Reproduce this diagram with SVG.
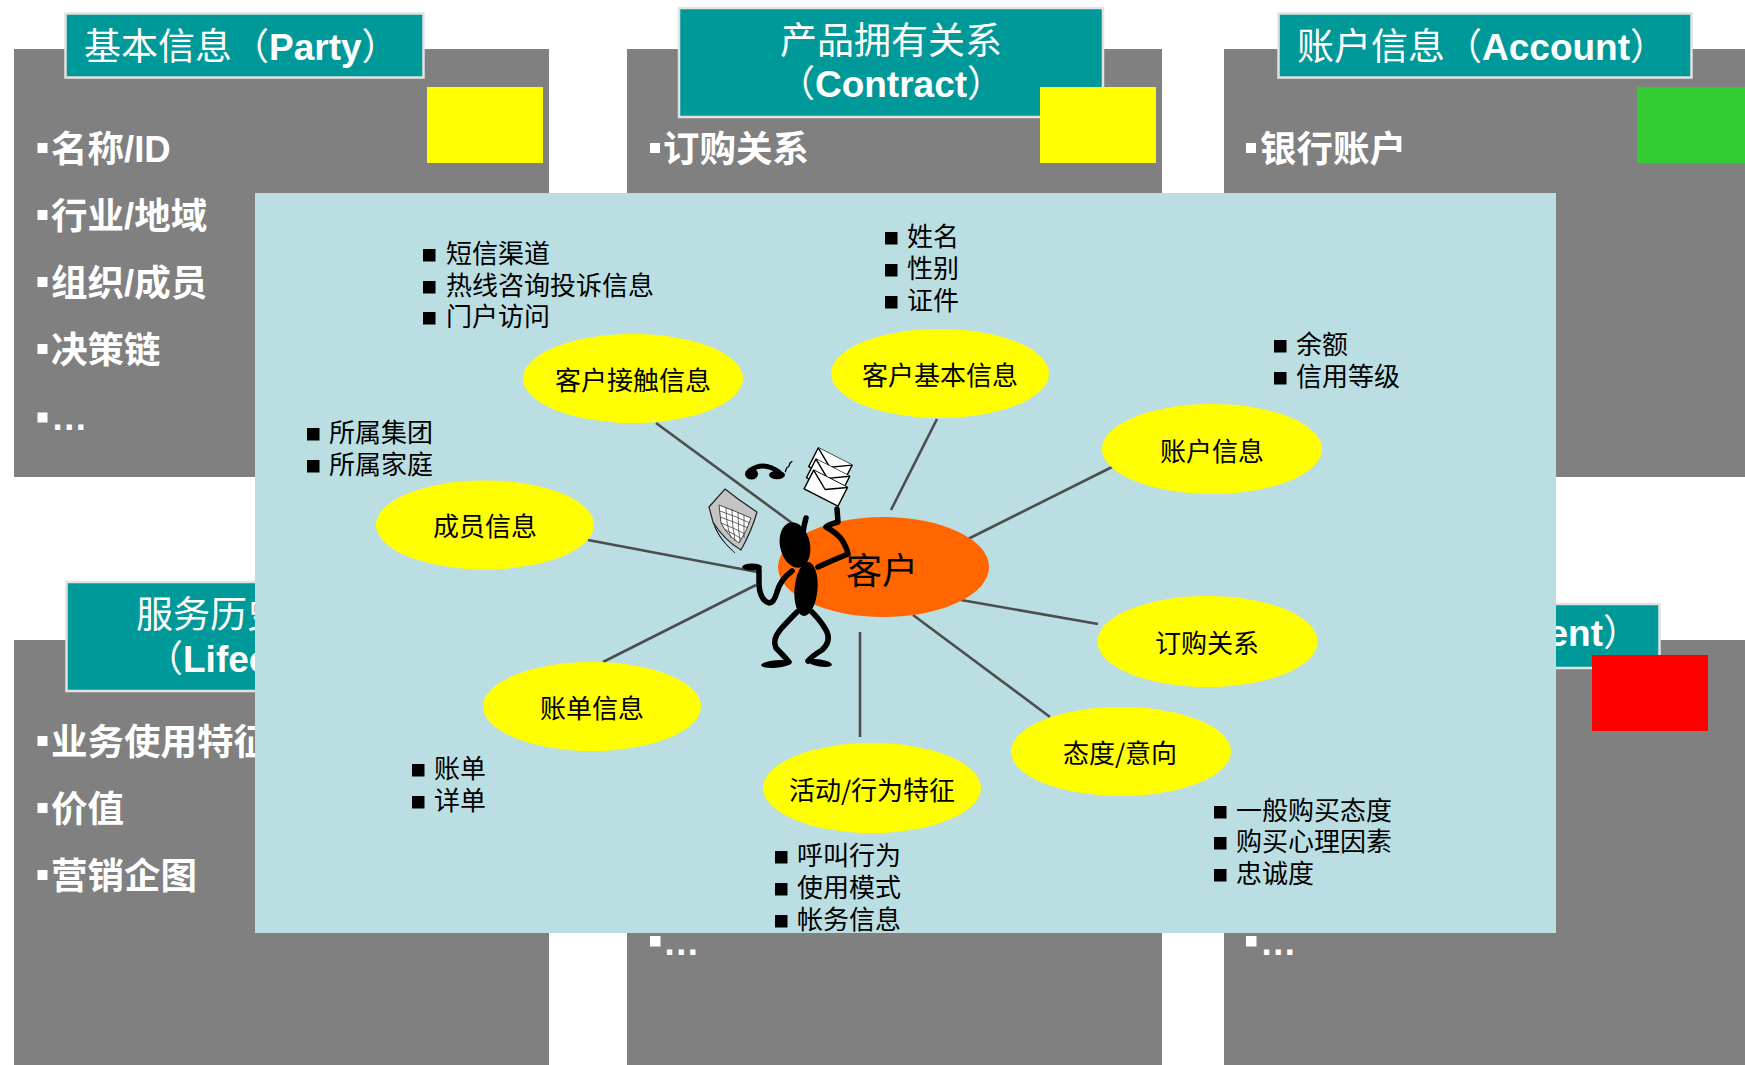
<svg xmlns="http://www.w3.org/2000/svg" width="1745" height="1065" viewBox="0 0 1745 1065">
<defs>
<style>
.panel{fill:#808080}
.hdr{fill:#009999;stroke:#E2E2E2;stroke-width:2.5}
.ttl{font-family:"Liberation Sans","Noto Sans CJK SC",sans-serif;font-size:37px;fill:#fff}
.lat{font-weight:bold}
.item{font-family:"Liberation Sans","Noto Sans CJK SC",sans-serif;font-size:36.5px;font-weight:bold;fill:#fff}
.wb{fill:#fff}
.node{fill:#FFFF00}
.lbl{font-family:"Noto Sans CJK SC",sans-serif;font-size:26px;fill:#000;text-anchor:middle}
.note{font-family:"Noto Sans CJK SC",sans-serif;font-size:26px;fill:#000}
.bb{fill:#000}
#connectors line{stroke:#4D4D4D;stroke-width:2.6}
.limb{fill:none;stroke:#000;stroke-width:5.5;stroke-linecap:round;stroke-linejoin:round}
.env{fill:#fff;stroke:#000;stroke-width:1.4;stroke-linejoin:round}
</style>
</defs>
<rect width="1745" height="1065" fill="#fff"/>

<!-- Party -->
<g id="panel-party">
  <rect class="panel" x="14" y="49" width="535" height="428"/>
  <rect class="hdr" x="65.5" y="13.5" width="358" height="64"/>
  <text class="ttl" x="84" y="60">基本信息（<tspan class="lat">Party</tspan>）</text>
  <rect x="427" y="87" width="116" height="76" fill="#FFFF00"/>
  <rect class="wb" x="37.5" y="143" width="10" height="10"/>
  <text class="item" x="51" y="162">名称/ID</text>
  <rect class="wb" x="37.5" y="210" width="10" height="10"/>
  <text class="item" x="51" y="229">行业/地域</text>
  <rect class="wb" x="37.5" y="277" width="10" height="10"/>
  <text class="item" x="51" y="296">组织/成员</text>
  <rect class="wb" x="37.5" y="344" width="10" height="10"/>
  <text class="item" x="51" y="363">决策链</text>
  <rect class="wb" x="37.5" y="412.5" width="10" height="10"/>
  <text class="item" x="51" y="430">…</text>
</g>

<!-- Contract -->
<g id="panel-contract">
  <rect class="panel" x="627" y="49" width="535" height="428"/>
  <rect class="hdr" x="679" y="8" width="424" height="109"/>
  <text class="ttl" x="891" y="54" text-anchor="middle">产品拥有关系</text>
  <text class="ttl" x="891" y="97" text-anchor="middle">（<tspan class="lat">Contract</tspan>）</text>
  <rect x="1040" y="87" width="116" height="76" fill="#FFFF00"/>
  <rect class="wb" x="650" y="143" width="10" height="10"/>
  <text class="item" x="663" y="162">订购关系</text>
</g>

<!-- Account -->
<g id="panel-account">
  <rect class="panel" x="1224" y="49" width="535" height="428"/>
  <rect class="hdr" x="1278.5" y="13.5" width="413" height="64"/>
  <text class="ttl" x="1297" y="60">账户信息（<tspan class="lat">Account</tspan>）</text>
  <rect x="1637" y="87" width="116" height="76" fill="#33CC33"/>
  <rect class="wb" x="1246" y="143" width="10" height="10"/>
  <text class="item" x="1260" y="162">银行账户</text>
</g>

<!-- Lifecycle -->
<g id="panel-lifecycle">
  <rect class="panel" x="14" y="640" width="535" height="430"/>
  <rect class="hdr" x="66.5" y="582" width="424" height="109"/>
  <text class="ttl" x="136" y="628">服务历史</text>
  <text class="ttl" x="146" y="672">（<tspan class="lat">Lifecycle</tspan>）</text>
  <rect class="wb" x="37.5" y="736" width="10" height="10"/>
  <text class="item" x="51" y="755">业务使用特征</text>
  <rect class="wb" x="37.5" y="803" width="10" height="10"/>
  <text class="item" x="51" y="822">价值</text>
  <rect class="wb" x="37.5" y="870" width="10" height="10"/>
  <text class="item" x="51" y="889">营销企图</text>
</g>

<!-- lower middle -->
<g id="panel-lower-middle">
  <rect class="panel" x="627" y="640" width="535" height="430"/>
  <rect class="wb" x="650" y="936" width="10.5" height="10.5"/>
  <text class="item" x="663" y="955">…</text>
</g>

<!-- Event -->
<g id="panel-event">
  <rect class="panel" x="1224" y="640" width="535" height="430"/>
  <rect class="hdr" x="1245" y="604" width="414.5" height="64"/>
  <text class="ttl" x="1640" y="646" text-anchor="end">（<tspan class="lat">Event</tspan>）</text>
  <rect x="1592" y="655" width="116" height="76" fill="#FF0000"/>
  <rect class="wb" x="1246" y="936" width="10.5" height="10.5"/>
  <text class="item" x="1260" y="955">…</text>
</g>

<!-- customer view board -->
<g id="customer-view">
  <rect x="255" y="193" width="1301" height="740" fill="#BBDEE3"/>
</g>

<g id="connectors">
  <line x1="656" y1="423" x2="792" y2="523"/>
  <line x1="937" y1="419" x2="891" y2="510"/>
  <line x1="1118" y1="464" x2="966" y2="540"/>
  <line x1="961" y1="600" x2="1098" y2="624"/>
  <line x1="913" y1="615" x2="1050" y2="717"/>
  <line x1="860" y1="632" x2="860" y2="737"/>
  <line x1="603" y1="662" x2="756" y2="585"/>
  <line x1="588" y1="540" x2="757" y2="572"/>
</g>

<g id="node-contact">
  <ellipse class="node" cx="633" cy="378.5" rx="110" ry="44.5"/>
  <text class="lbl" x="633" y="390">客户接触信息</text>
  <rect class="bb" x="423" y="249" width="12.5" height="12.5"/>
  <rect class="bb" x="423" y="281" width="12.5" height="12.5"/>
  <rect class="bb" x="423" y="312" width="12.5" height="12.5"/>
  <text class="note"><tspan x="446" y="263">短信渠道</tspan><tspan x="446" y="295">热线咨询投诉信息</tspan><tspan x="446" y="326">门户访问</tspan></text>
</g>

<g id="node-member">
  <ellipse class="node" cx="485" cy="525" rx="109" ry="44.5"/>
  <text class="lbl" x="485" y="536">成员信息</text>
  <rect class="bb" x="307" y="428" width="12.5" height="12.5"/>
  <rect class="bb" x="307" y="460" width="12.5" height="12.5"/>
  <text class="note"><tspan x="329" y="442">所属集团</tspan><tspan x="329" y="474">所属家庭</tspan></text>
</g>

<g id="node-basic">
  <ellipse class="node" cx="940" cy="373.5" rx="109" ry="44.5"/>
  <text class="lbl" x="940" y="385">客户基本信息</text>
  <rect class="bb" x="885" y="232" width="12.5" height="12.5"/>
  <rect class="bb" x="885" y="264" width="12.5" height="12.5"/>
  <rect class="bb" x="885" y="296" width="12.5" height="12.5"/>
  <text class="note"><tspan x="907" y="246">姓名</tspan><tspan x="907" y="278">性别</tspan><tspan x="907" y="310">证件</tspan></text>
</g>

<g id="node-account">
  <ellipse class="node" cx="1212" cy="449" rx="110" ry="45"/>
  <text class="lbl" x="1212" y="461">账户信息</text>
  <rect class="bb" x="1274" y="340" width="12.5" height="12.5"/>
  <rect class="bb" x="1274" y="372" width="12.5" height="12.5"/>
  <text class="note"><tspan x="1296" y="354">余额</tspan><tspan x="1296" y="386">信用等级</tspan></text>
</g>

<g id="node-order">
  <ellipse class="node" cx="1207.5" cy="641.5" rx="110" ry="45.5"/>
  <text class="lbl" x="1207" y="653">订购关系</text>
</g>

<g id="node-attitude">
  <ellipse class="node" cx="1121" cy="751.5" rx="110" ry="44.5"/>
  <text class="lbl" x="1120" y="763">态度/意向</text>
  <rect class="bb" x="1214" y="806" width="12.5" height="12.5"/>
  <rect class="bb" x="1214" y="837" width="12.5" height="12.5"/>
  <rect class="bb" x="1214" y="869" width="12.5" height="12.5"/>
  <text class="note"><tspan x="1236" y="820">一般购买态度</tspan><tspan x="1236" y="851">购买心理因素</tspan><tspan x="1236" y="883">忠诚度</tspan></text>
</g>

<g id="node-activity">
  <ellipse class="node" cx="872" cy="788" rx="109" ry="45"/>
  <text class="lbl" x="872" y="800">活动/行为特征</text>
  <rect class="bb" x="775" y="851" width="12.5" height="12.5"/>
  <rect class="bb" x="775" y="883" width="12.5" height="12.5"/>
  <rect class="bb" x="775" y="915" width="12.5" height="12.5"/>
  <text class="note"><tspan x="797" y="865">呼叫行为</tspan><tspan x="797" y="897">使用模式</tspan><tspan x="797" y="929">帐务信息</tspan></text>
</g>

<g id="node-bill">
  <ellipse class="node" cx="592" cy="706.5" rx="109" ry="44.5"/>
  <text class="lbl" x="592" y="718">账单信息</text>
  <rect class="bb" x="412" y="764" width="12.5" height="12.5"/>
  <rect class="bb" x="412" y="796" width="12.5" height="12.5"/>
  <text class="note"><tspan x="434" y="778">账单</tspan><tspan x="434" y="810">详单</tspan></text>
</g>

<!-- central customer node with juggling figure -->
<g id="node-customer">
  <ellipse cx="883.5" cy="567" rx="105.5" ry="50" fill="#FF6600"/>
  <text x="882" y="584" font-family="Noto Sans CJK SC, sans-serif" font-size="36" text-anchor="middle" fill="#000">客户</text>

  <!-- keyboard sheet -->
  <path d="M713,522 Q718,538 732,550 M715,527 Q721,541 735,553" fill="none" stroke="#222" stroke-width="1"/>
  <path d="M709,507 L725,489 Q740,501 757,512 Q752,530 741,550 Q724,540 713,522 Z" fill="#C4C4C4" stroke="#222" stroke-width="1.2"/>
  <path d="M719,505 Q735,511 751,518 Q747,531 739,543 Q727,535 721,523 Z" fill="#fff" stroke="#333" stroke-width="0.9"/>
  <path d="M720,511 Q735,516 750,523 M720,517 Q735,522 748,528 M721,523 Q734,528 745,534 M724,529 Q734,534 742,539 M726,507 Q726,524 731,538 M732,509 Q732,526 735,541 M738,512 Q738,528 740,542 M744,515 Q744,527 744,538" fill="none" stroke="#444" stroke-width="0.8"/>

  <!-- phone -->
  <ellipse cx="751.5" cy="474" rx="6.5" ry="5.5" fill="#000"/>
  <ellipse cx="777" cy="475" rx="8" ry="4.2" fill="#000"/>
  <path d="M749,471 Q764,460 780,473" fill="none" stroke="#000" stroke-width="5"/>
  <path d="M785,472 c2,-2 0,-4 3,-5 c2,-1 1,-3 2,-4 c1,-1 2,-1 2,-2" fill="none" stroke="#000" stroke-width="1.3"/>

  <!-- envelopes -->
  <g transform="rotate(27 827 477)">
    <rect class="env" x="806" y="455" width="38" height="21"/>
    <path class="env" d="M806,455 L825,467 L844,455" fill="none"/>
    <rect class="env" x="809" y="466" width="38" height="21"/>
    <path class="env" d="M809,466 L828,478 L847,466" fill="none"/>
    <rect class="env" x="812" y="477" width="38" height="21"/>
    <path class="env" d="M812,477 L831,489 L850,477" fill="none"/>
  </g>

  <!-- figure -->
  <ellipse cx="795" cy="545" rx="15" ry="23" transform="rotate(-12 795 545)" fill="#000"/>
  <path class="limb" d="M803,533 Q804,525 806,518" stroke-width="4"/>
  <ellipse cx="806" cy="589" rx="11.5" ry="27" transform="rotate(5 806 589)" fill="#000"/>
  <path class="limb" d="M837,509 L838,522 Q830,524 826,527 Q837,533 842,540 Q847,548 848,554 Q833,560 818,567"/>
  <path class="limb" d="M792,571 Q780,580 777,592 Q774,603 769,603 Q760,600 759,585 L759,570"/>
  <ellipse cx="752" cy="567" rx="10" ry="3.5" fill="#000"/>
  <path class="limb" d="M797,612 Q787,622 780,630 Q772,640 776,648 Q784,656 789,662"/>
  <ellipse cx="776" cy="664" rx="15" ry="3.8" transform="rotate(-5 776 664)" fill="#000"/>
  <path class="limb" d="M812,612 Q822,622 827,632 Q831,642 822,650 Q812,656 808,661"/>
  <ellipse cx="820" cy="663" rx="12" ry="3.6" transform="rotate(8 820 663)" fill="#000"/>
</g>
</svg>
